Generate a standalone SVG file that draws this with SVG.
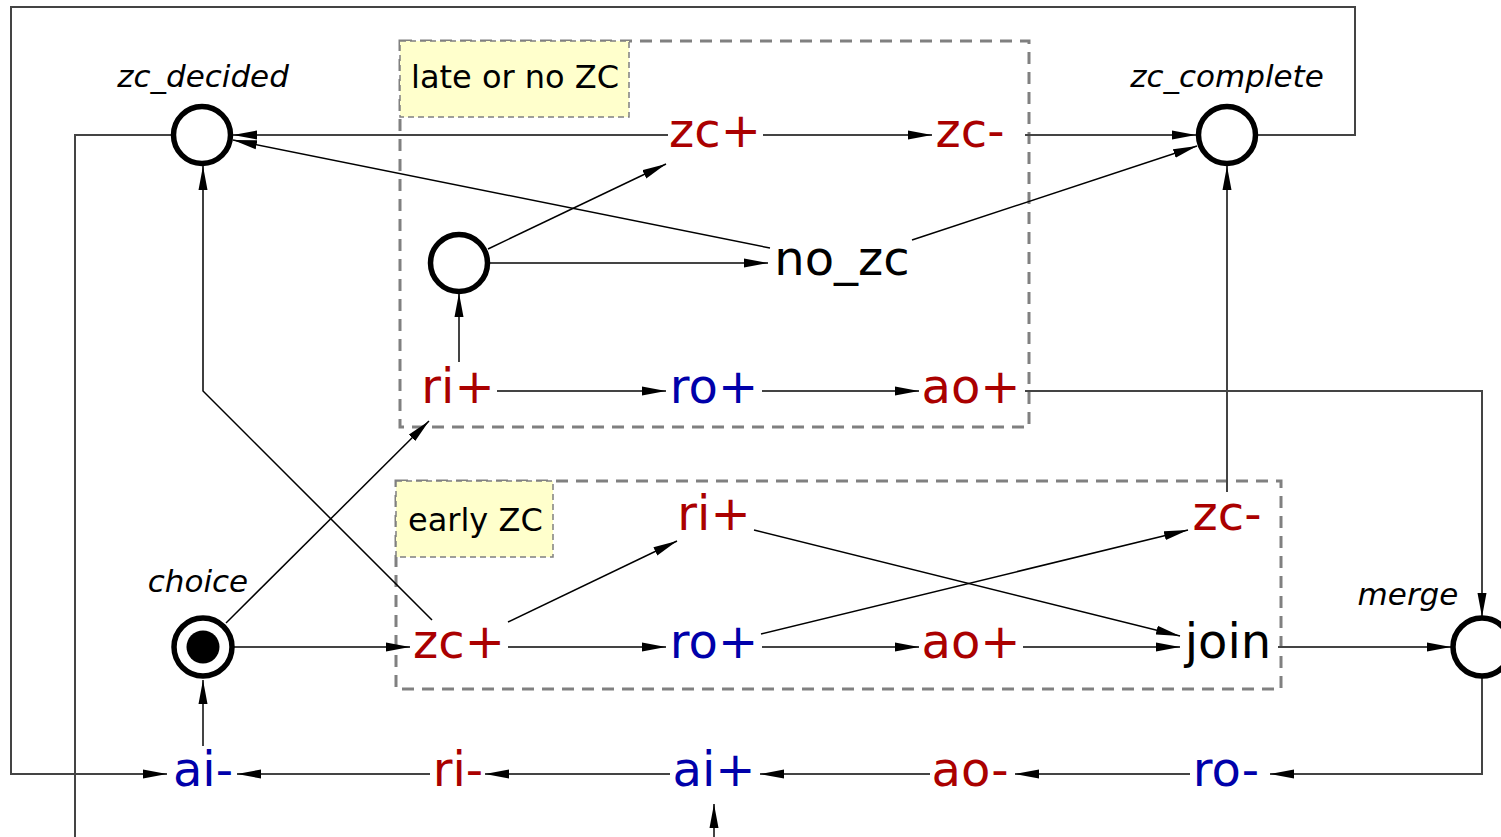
<svg xmlns="http://www.w3.org/2000/svg" width="1501" height="837" viewBox="0 0 1501 837">
<style>
.t{font-family:"DejaVu Sans",sans-serif;font-size:48px;text-anchor:middle}
.r{fill:#aa0000}
.b{fill:#0000aa}
.k{fill:#000}
.lab{font-family:"DejaVu Sans",sans-serif;font-size:31px;font-style:italic;text-anchor:middle;fill:#000}
.box{font-family:"DejaVu Sans",sans-serif;font-size:32px;fill:#000}
.pl{fill:#fff;stroke:#000;stroke-width:5.5}
.grp{fill:none;stroke:#808080;stroke-width:3;stroke-dasharray:12 8}
.yl{fill:#ffffcc;stroke:#808080;stroke-width:1.5;stroke-dasharray:6 4}
.c{fill:none;stroke:#444;stroke-width:2;marker-end:url(#a)}
.n{fill:none;stroke:#444;stroke-width:2}
.d{fill:none;stroke:#000;stroke-width:1.5;marker-end:url(#a)}
</style>
<defs>
<marker id="a" markerUnits="userSpaceOnUse" markerWidth="24" markerHeight="10" refX="24" refY="5" orient="auto" viewBox="0 0 24 10">
<path d="M0,0.5 L24,5 L0,9.5 z" fill="#000"/>
</marker>
</defs>
<rect width="1501" height="837" fill="#fff"/>
<g id="group-late">
<rect class="grp" x="400" y="41" width="629" height="386"/>
<rect class="yl" x="400" y="41" width="229" height="76"/>
<text class="box" x="411" y="88">late or no ZC</text>
</g>
<g id="group-early">
<rect class="grp" x="396" y="481" width="885" height="208"/>
<rect class="yl" x="396" y="481" width="157" height="76"/>
<text class="box" x="408" y="531">early ZC</text>
</g>
<g id="connectors">
<path class="c" d="M668,135 H233"/>
<path class="c" d="M763,135 H932"/>
<path class="c" d="M1025,135 H1196"/>
<path class="d" d="M770,248 L233,140"/>
<path class="d" d="M912,240 L1197,146"/>
<path class="d" d="M488,249 L666,164"/>
<path class="c" d="M490,263 H768"/>
<path class="c" d="M459,362 V293"/>
<path class="c" d="M497,391 H666"/>
<path class="c" d="M762,391 H919"/>
<path class="c" d="M1025,391 H1482 V617"/>
<path class="d" d="M226,623 L429,421"/>
<path class="c" d="M234,647 H410"/>
<path class="d" d="M432,620 L203,391 V166"/>
<path class="d" d="M508,622 L677,541"/>
<path class="c" d="M508,647 H666"/>
<path class="d" d="M754,530 L1180,636"/>
<path class="d" d="M761,634 L1188,530"/>
<path class="c" d="M762,647 H919"/>
<path class="c" d="M1023,647 H1180"/>
<path class="c" d="M1278,647 H1451"/>
<path class="c" d="M1227,492 V166"/>
<path class="c" d="M1482,677 V774 H1270"/>
<path class="c" d="M1190,774 H1015"/>
<path class="c" d="M930,774 H760"/>
<path class="c" d="M670,774 H485"/>
<path class="c" d="M430,774 H237"/>
<path class="c" d="M203,746 V680"/>
<path class="c" d="M1257,135 H1355 V7 H11 V774 H167"/>
<path class="n" d="M175,135 H75 V837"/>
<path class="c" d="M714,837 V804"/>
</g>
<g id="zc_decided"><circle class="pl" cx="202" cy="135" r="28.5"/><text class="lab" x="203" y="87">zc_decided</text></g>
<g id="zc_complete"><circle class="pl" cx="1227" cy="135" r="28.5"/><text class="lab" x="1227" y="87">zc_complete</text></g>
<g id="p_late"><circle class="pl" cx="459" cy="263" r="28.5"/></g>
<g id="choice"><circle class="pl" cx="203" cy="647" r="29"/><circle cx="203" cy="647" r="16.5" fill="#000"/><text class="lab" x="198" y="592">choice</text></g>
<g id="merge"><circle class="pl" cx="1482" cy="647" r="29"/><text class="lab" x="1408" y="605">merge</text></g>
<g id="t_zcp_late"><text class="t r" x="715" y="147">zc+</text></g>
<g id="t_zcm_late"><text class="t r" x="970" y="147">zc-</text></g>
<g id="t_nozc"><text class="t k" x="842" y="275">no_zc</text></g>
<g id="t_rip_late"><text class="t r" x="458" y="403">ri+</text></g>
<g id="t_rop_late"><text class="t b" x="714" y="403">ro+</text></g>
<g id="t_aop_late"><text class="t r" x="971" y="403">ao+</text></g>
<g id="t_rip_early"><text class="t r" x="714" y="530">ri+</text></g>
<g id="t_zcm_early"><text class="t r" x="1227" y="530">zc-</text></g>
<g id="t_zcp_early"><text class="t r" x="459" y="658">zc+</text></g>
<g id="t_rop_early"><text class="t b" x="714" y="658">ro+</text></g>
<g id="t_aop_early"><text class="t r" x="971" y="658">ao+</text></g>
<g id="t_join"><text class="t k" x="1228" y="658">join</text></g>
<g id="t_rom"><text class="t b" x="1226" y="786">ro-</text></g>
<g id="t_aom"><text class="t r" x="970" y="786">ao-</text></g>
<g id="t_aip"><text class="t b" x="714" y="786">ai+</text></g>
<g id="t_rim"><text class="t r" x="458" y="786">ri-</text></g>
<g id="t_aim"><text class="t b" x="203" y="786">ai-</text></g>
</svg>
